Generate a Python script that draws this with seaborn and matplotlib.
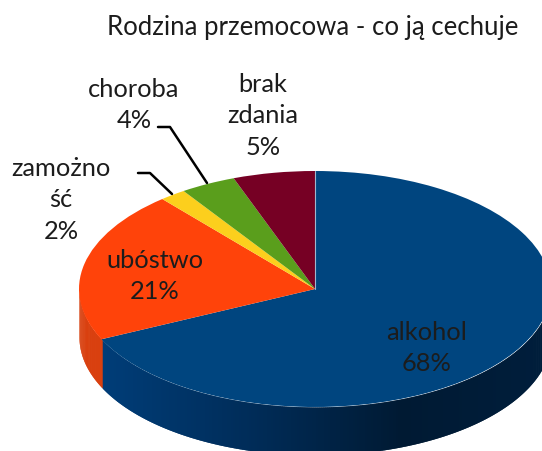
import numpy as np
import matplotlib
matplotlib.use("Agg")
import matplotlib.pyplot as plt
from matplotlib.colors import LinearSegmentedColormap
import seaborn as sns

# Slices in drawing order, clockwise from 12 o'clock
categories = ["alkohol", "ubóstwo", "zamożno\nść", "choroba", "brak\nzdania"]
# printed percentages
percent_labels = [68, 21, 2, 4, 5]
# shares as measured from the slice edges in the picture
shares = [68, 20.8, 1.8, 3.8, 5.6]
colors = ["#00457f", "#ff430a", "#fccf1d", "#5a9e1c", "#760024"]

sns.set_style("white")
plt.rcParams["font.family"] = ["Lato", "DejaVu Sans"]

# pie geometry in pixels of the 542x452 picture
CX, CY, RX, RY, DEPTH = 315, 290, 236, 118, 48
W, H = 542, 452


def px(x, y):
    """Picture pixels to pie units."""
    return (x - CX) / RX, (CY - y) / RY


fig = plt.figure(figsize=(W / 100, H / 100), dpi=100)
ax = fig.add_axes([0, 0, 1, 1])

# side wall, only the front half of the pie can be seen
depth = DEPTH / RY
blue_side = LinearSegmentedColormap.from_list(
    "blue_side", ["#003d78", "#002c58", "#001a33", "#001e3c"]
)
angles = 90 - np.cumsum([0] + shares) * 3.6
for i, (start, stop) in enumerate(zip(angles[:-1], angles[1:])):
    lo, hi = np.mod(stop, 360), np.mod(stop, 360) + (start - stop)
    theta = np.radians(np.arange(max(lo, 180), min(hi, 360) + 0.5, 0.5))
    if len(theta) < 2:
        continue
    xs, ys = np.cos(theta), np.sin(theta)
    # strips overlap the next one so no seams show through
    for j in range(len(theta) - 1):
        if i == 0:
            shade = blue_side((xs[j] + 0.905) / 1.905)
        else:
            shade = "#d9400f"
        ax.fill_between(
            xs[j:j + 3],
            ys[j:j + 3] - depth,
            ys[j:j + 3],
            color=shade,
            linewidth=0,
            zorder=1,
        )

wedges, _ = ax.pie(
    shares,
    colors=colors,
    startangle=90,
    counterclock=False,
    radius=1,
    wedgeprops={"linewidth": 0},
)
for w in wedges:
    w.set_zorder(2)

ax.set_aspect("auto")
ax.set_xlim(px(0, 0)[0], px(W, 0)[0])
ax.set_ylim(px(0, H)[1], px(0, 0)[1])
ax.axis("off")

# light seam where the blue slice starts
ax.plot([0, 0], [0, 1], color="#9fb7cf", lw=0.8, zorder=3)

# labels, one position for each category
label_pos = [(427, 348), (155, 276), (61, 200), (134, 105), (263, 116)]
for name, val, pos in zip(categories, percent_labels, label_pos):
    x, y = px(*pos)
    ax.text(x, y, f"{name}\n{val}%", ha="center", va="center", fontsize=18.3,
            color="#1c1c1c", linespacing=1.43, zorder=5)

# leader lines
for line in ([(158, 128), (170, 128), (207, 184)], [(138, 174), (150, 174), (172, 195)]):
    pts = np.array([px(*p) for p in line])
    ax.plot(pts[:, 0], pts[:, 1], color="black", lw=1.8, zorder=4)

x, y = px(313, 28)
ax.text(x, y, "Rodzina przemocowa - co ją cechuje", ha="center", va="center",
        fontsize=18.5, color="#1c1c1c", zorder=5)

fig.savefig("out.png", dpi=100)
